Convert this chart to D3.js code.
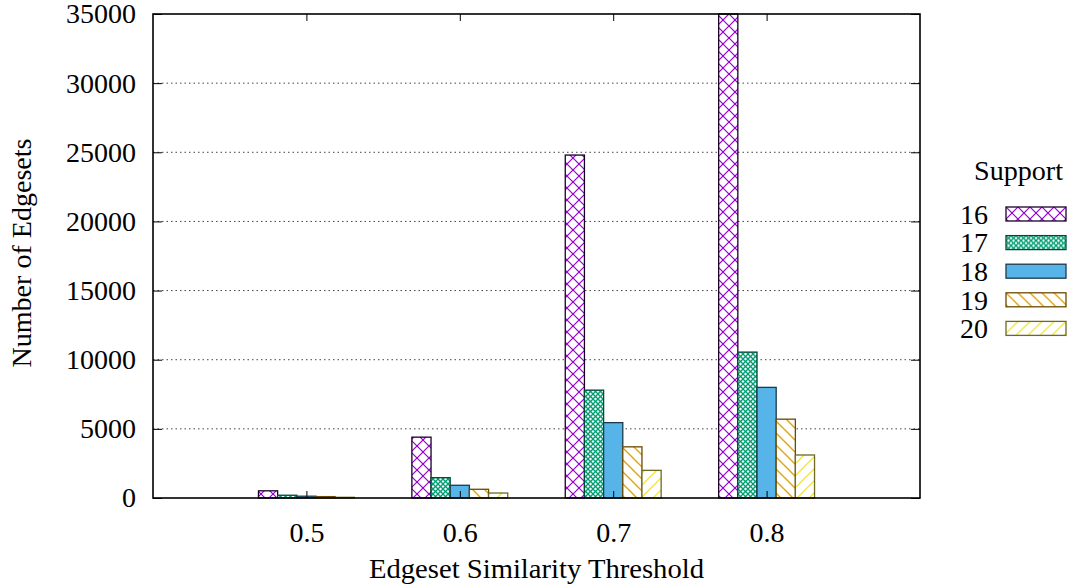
<!DOCTYPE html>
<html>
<head>
<meta charset="utf-8">
<script src="https://cdn.jsdelivr.net/npm/d3@7"></script>
<style>
	body { margin: 0; background: #fff; }
</style>
</head>
<body>
<svg id="chart" width="1071" height="588"></svg>
<script>
'use strict';

// data
var thresholds = ['0.5', '0.6', '0.7', '0.8'];
var supports = ['16', '17', '18', '19', '20'];
var support16 = [520, 4400, 24800, 35000];
var support17 = [200, 1470, 7800, 10550];
var support18 = [130, 920, 5450, 8000];
var support19 = [100, 630, 3700, 5700];
var support20 = [50, 360, 2000, 3110];
var yTicks = [0, 5000, 10000, 15000, 20000, 25000, 30000, 35000];

var series = [support16, support17, support18, support19, support20];

// gnuplot-ish look
var font = '"Liberation Serif", "Times New Roman", Times, serif';
var colors = ['#9400d3', '#009e73', '#56b4e9', '#e69f00', '#f0e442'];
var borders = ['#1a0026', '#004a36', '#1c3a4a', '#6a4a00', '#6e6a20'];
var margin = { left: 153, top: 14, right: 151, bottom: 90 };
var W = 1071, H = 588;
var width = W - margin.left - margin.right;
var height = H - margin.top - margin.bottom;

var svg = d3.select('#chart')
	.attr('font-family', font);
var defs = svg.append('defs');

function linePattern(id, size, color, sw, dirs) {
	var p = defs.append('pattern')
		.attr('id', id)
		.attr('patternUnits', 'userSpaceOnUse')
		.attr('width', size)
		.attr('height', size);
	p.append('rect').attr('width', size).attr('height', size).attr('fill', '#fff');
	dirs.forEach(function(d) {
		var pts = d === '/'
			? [[-size, size * 2], [size * 2, -size]]
			: [[-size, -size], [size * 2, size * 2]];
		[-size, 0, size].forEach(function(o) {
			p.append('line')
				.attr('x1', pts[0][0] + o).attr('y1', pts[0][1])
				.attr('x2', pts[1][0] + o).attr('y2', pts[1][1])
				.attr('stroke', color)
				.attr('stroke-width', sw);
		});
	});
}
linePattern('pat0', 12, colors[0], 1.2, ['/', '\\']);
linePattern('pat1', 5, colors[1], 1.3, ['/', '\\']);
linePattern('pat3', 12, colors[3], 1.3, ['\\']);
linePattern('pat4', 12, colors[4], 1.3, ['/']);
var fills = ['url(#pat0)', 'url(#pat1)', colors[2], 'url(#pat3)', 'url(#pat4)'];

var chart = svg.append('g')
	.attr('transform', 'translate(' + margin.left + ',' + margin.top + ')');

// x: one slot before and after the groups, like gnuplot's histogram range
var x = d3.scaleLinear()
	.domain([-1, thresholds.length])
	.range([0, width]);
var barW = (x(1) - x(0)) / (supports.length + 3);

var y = d3.scaleLinear()
	.domain([0, 35000])
	.range([height, 0])
	.clamp(true);

// grid
chart.append('g')
	.attr('class', 'grid')
	.selectAll('line')
	.data(yTicks.slice(1, -1))
	.join('line')
	.attr('x1', 0).attr('x2', width)
	.attr('y1', function(d) { return y(d); })
	.attr('y2', function(d) { return y(d); })
	.attr('stroke', '#444')
	.attr('stroke-width', 1)
	.attr('stroke-dasharray', '1.5,3');

// bars
var bars = chart.append('g').attr('class', 'bars');
series.forEach(function(vals, s) {
	bars.selectAll('.bar' + s)
		.data(vals)
		.join('rect')
		.attr('class', 'bar' + s)
		.attr('x', function(d, i) { return x(i) + (s - supports.length / 2) * barW; })
		.attr('width', barW)
		.attr('y', function(d) { return y(d); })
		.attr('height', function(d) { return y(0) - y(d); })
		.attr('fill', fills[s])
		.attr('stroke', borders[s])
		.attr('stroke-width', 1.3);
});

// axes
var yAxis = d3.axisLeft(y)
	.tickValues(yTicks)
	.tickSize(-9)
	.tickPadding(17)
	.tickFormat(d3.format('d'));
var yAxisR = d3.axisRight(y)
	.tickValues(yTicks)
	.tickSize(-9)
	.tickFormat('');
var xAxis = d3.axisBottom(x)
	.tickValues(d3.range(thresholds.length))
	.tickSize(-7)
	.tickPadding(24)
	.tickFormat(function(i) { return thresholds[i]; });
var xAxisT = d3.axisTop(x)
	.tickValues(d3.range(thresholds.length))
	.tickSize(-7)
	.tickFormat('');

chart.append('g').attr('class', 'y axis').call(yAxis);
chart.append('g').attr('class', 'y axis').attr('transform', 'translate(' + width + ',0)').call(yAxisR);
chart.append('g').attr('class', 'x axis').attr('transform', 'translate(0,' + height + ')').call(xAxis);
chart.append('g').attr('class', 'x axis').call(xAxisT);

chart.selectAll('.axis')
	.attr('font-family', font)
	.attr('font-size', 28);
chart.selectAll('.axis .domain').remove();
chart.selectAll('.axis line').attr('stroke', '#000').attr('stroke-width', 1);
chart.selectAll('.axis text')
	.attr('font-family', font)
	.attr('font-size', 28)
	.attr('fill', '#000');
chart.selectAll('.y.axis text').attr('dy', '0.32em');

chart.append('rect')
	.attr('width', width)
	.attr('height', height)
	.attr('fill', 'none')
	.attr('stroke', '#000')
	.attr('stroke-width', 1.6);

// titles, pinned to the widths they have in the original
svg.append('text')
	.attr('x', margin.left + width / 2)
	.attr('y', 578)
	.attr('text-anchor', 'middle')
	.attr('font-family', font)
	.attr('font-size', 28)
	.attr('textLength', 335)
	.attr('lengthAdjust', 'spacingAndGlyphs')
	.text('Edgeset Similarity Threshold');
svg.append('text')
	.attr('transform', 'translate(31,' + (margin.top + height / 2 - 3) + ') rotate(-90)')
	.attr('text-anchor', 'middle')
	.attr('font-family', font)
	.attr('font-size', 28)
	.attr('textLength', 229)
	.attr('lengthAdjust', 'spacingAndGlyphs')
	.text('Number of Edgesets');

// legend
var legend = svg.append('g').attr('transform', 'translate(1006,0)');
legend.append('text')
	.attr('x', 12.5)
	.attr('y', 180)
	.attr('text-anchor', 'middle')
	.attr('font-family', font)
	.attr('font-size', 28)
	.attr('textLength', 89)
	.attr('lengthAdjust', 'spacingAndGlyphs')
	.text('Support');
var rows = legend.selectAll('.row')
	.data(supports)
	.join('g')
	.attr('class', 'row')
	.attr('transform', function(d, i) { return 'translate(0,' + (207 + i * 28.6) + ')'; });
rows.append('text')
	.attr('x', -18)
	.attr('y', 7)
	.attr('dy', '0.35em')
	.attr('text-anchor', 'end')
	.attr('font-family', font)
	.attr('font-size', 28)
	.text(function(d) { return d; });
rows.append('rect')
	.attr('width', 60)
	.attr('height', 14)
	.attr('fill', function(d, i) { return fills[i]; })
	.attr('stroke', function(d, i) { return borders[i]; })
	.attr('stroke-width', 1.3);
</script>
</body>
</html>
